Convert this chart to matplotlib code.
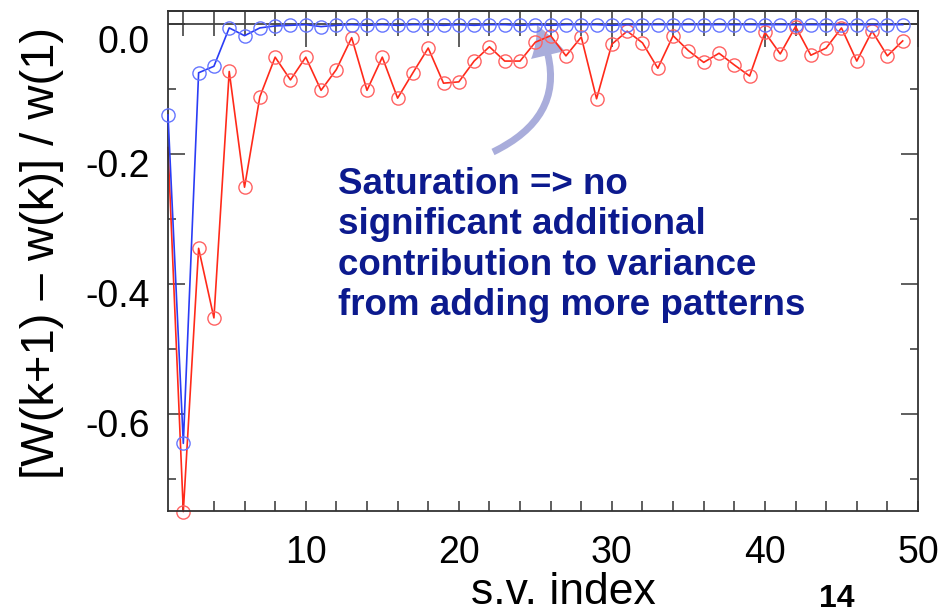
import matplotlib
matplotlib.use("Agg")
import matplotlib.pyplot as plt
from matplotlib.patches import FancyArrowPatch
from matplotlib.transforms import ScaledTranslation
import numpy as np

plt.rcParams["font.family"] = ["Liberation Sans", "DejaVu Sans"]
plt.rcParams["axes.unicode_minus"] = False

# singular-value index k
sv_index = list(range(1, 50))

# relative change of the explained variance, two cases
blue_change = [
    -0.140, -0.645, -0.075, -0.065, -0.006, -0.018, -0.006, -0.003, -0.002, -0.001,
    -0.004, -0.002, -0.001, -0.002, -0.001, -0.002, -0.001, -0.001, -0.002, -0.001,
    -0.002, -0.001, -0.001, -0.002, -0.001, -0.002, -0.001, -0.001, -0.001, -0.002,
    -0.001, -0.001, -0.001, -0.001, -0.001, -0.001, -0.001, -0.001, -0.001, -0.001,
    -0.001, -0.001, -0.001, -0.001, -0.001, -0.001, -0.001, -0.001, -0.001,
]
red_change = [
    -0.190, -0.750, -0.345, -0.452, -0.073, -0.251, -0.112, -0.051, -0.086, -0.051,
    -0.102, -0.070, -0.021, -0.102, -0.051, -0.114, -0.075, -0.037, -0.091, -0.089,
    -0.057, -0.035, -0.057, -0.057, -0.028, -0.018, -0.049, -0.020, -0.115, -0.031,
    -0.011, -0.029, -0.068, -0.018, -0.041, -0.059, -0.045, -0.063, -0.080, -0.013,
    -0.046, -0.004, -0.048, -0.037, -0.006, -0.057, -0.011, -0.049, -0.026,
]

x_major = [10, 20, 30, 40, 50]
y_major = [-0.6, -0.4, -0.2, 0.0]
y_labels = ["-0.6", "-0.4", "-0.2", "0.0"]

note_lines = [
    "Saturation => no",
    "significant additional",
    "contribution to variance",
    "from adding more patterns",
]

W, H = 950, 615
fig = plt.figure(figsize=(W / 100, H / 100), dpi=100)
ax = fig.add_axes([168 / W, 104 / H, 750 / W, 500 / H])

ax.set_xlim(1, 50)
ax.set_ylim(-0.749, 0.02)

ax.axhline(0, color="#444444", lw=1.3, zorder=1)

ax.plot(sv_index, red_change, color="#ff2a1a", lw=1.2, marker="o",
        markersize=9.5, markerfacecolor="none", markeredgecolor="#ff6262",
        markeredgewidth=1.0, markevery=slice(1, None), clip_on=False, zorder=2)
ax.plot(sv_index, blue_change, color="#2a3cf5", lw=1.2, marker="o",
        markersize=9.5, markerfacecolor="none", markeredgecolor="#6676ff",
        markeredgewidth=1.0, clip_on=False, zorder=3)

for sp in ax.spines.values():
    sp.set_color("#333333")
    sp.set_linewidth(1.3)

ax.set_xticks(x_major)
ax.set_xticks(np.arange(2, 50, 2), minor=True)
ax.set_yticks(y_major)
ax.set_yticklabels(y_labels)
ax.set_yticks(np.arange(-0.7, 0.01, 0.1), minor=True)

ax.tick_params(axis="both", which="both", direction="in", color="#333333",
               width=1.1, labelsize=27)
ax.tick_params(axis="x", which="major", length=7, pad=17)
ax.tick_params(axis="x", which="minor", length=7)
ax.tick_params(axis="y", which="major", length=12, pad=13, right=True)
ax.tick_params(axis="y", which="minor", length=6, right=True)

# longer ticks hanging from the top edge
top = ax.secondary_xaxis("top")
top.set_xticks(x_major)
top.set_xticks(np.arange(2, 50, 2), minor=True)
top.tick_params(which="major", direction="in", length=26, width=1.1,
                color="#333333", labeltop=False)
top.tick_params(which="minor", direction="in", length=18, width=1.1,
                color="#333333")
top.spines["top"].set_color("#333333")
top.spines["top"].set_linewidth(1.3)

# tick labels sit slightly below their ticks
shifts = [-9, -9, -9, -15]
for lab, dy in zip(ax.get_yticklabels(), shifts):
    lab.set_transform(lab.get_transform()
                      + ScaledTranslation(0, dy / 100, fig.dpi_scale_trans))

fig.text(42 / W, 1 - 253 / H, "[W(k+1) \u2013 w(k)] / w(1)", rotation=90,
         ha="center", va="center", fontsize=34)
fig.text(563 / W, 11 / H, "s.v. index", ha="center", va="baseline", fontsize=32)
fig.text(837 / W, 8 / H, "14", ha="center", va="baseline", fontsize=23,
         fontweight="bold")

# baseline of the last line of the note
fig.text(338 / W, 1 - 315 / H, "\n".join(note_lines), ha="left", va="baseline",
         fontsize=26.5, fontweight="bold", color="#0c1a8e", linespacing=1.2)

arrow = FancyArrowPatch((493 / W, 1 - 152 / H), (537 / W, 1 - 25 / H),
                        transform=fig.transFigure,
                        connectionstyle="arc3,rad=0.5",
                        arrowstyle="simple,head_length=2.3,head_width=2.5,tail_width=0.5",
                        mutation_scale=10, shrinkA=0, shrinkB=0,
                        color="#a9addb", lw=0, zorder=1.5, clip_on=False)
ax.add_patch(arrow)

fig.savefig("out.png", dpi=100)
